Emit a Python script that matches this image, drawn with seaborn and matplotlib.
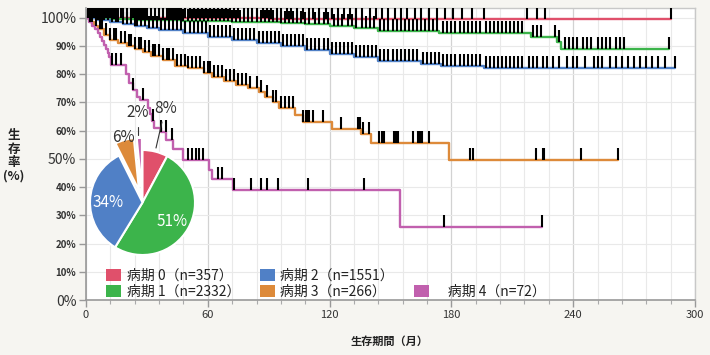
import numpy as np
import matplotlib
matplotlib.use("Agg")
import matplotlib.pyplot as plt
from matplotlib.patches import Patch
import seaborn as sns

# Kaplan-Meier step curves (months, survival % after each step)
red_t = [0, 30, 90, 288]
red_s = [100, 99.7, 99.5, 99.5]

green_t = [0, 6, 12, 24, 36, 48, 60, 72, 84, 96, 108, 120, 132, 144, 174, 219, 232, 234, 287]
green_s = [100, 99.8, 99.6, 99.3, 99.0, 98.9, 98.7, 98.5, 98.3, 98.0, 97.6, 96.9, 96.2, 95.4,
           94.6, 93.0, 91.3, 89.0, 89.0]

blue_t = [0, 6, 12, 18, 24, 30, 36, 48, 60, 72, 84, 96, 108, 120, 132, 144, 165, 175, 196, 290]
blue_s = [100, 99.2, 98.4, 97.6, 97.0, 96.3, 95.6, 94.4, 93.2, 92.2, 91.0, 89.8, 88.5, 87.2,
          86.0, 84.5, 83.6, 82.8, 82.1, 82.1]

orange_t = [0, 2, 4, 6, 9, 12, 16, 20, 24, 28, 32, 38, 44, 50, 58, 62, 68, 74, 80, 85, 88,
            92, 95, 103, 107, 121, 135.5, 140.4, 179, 262]
orange_s = [100, 98.5, 97, 96, 94, 92, 91, 90, 89, 88, 86.5, 85, 83, 82, 80.5, 79, 77.5, 76,
            75, 73.5, 72, 70, 68, 65.5, 63, 60.7, 58.9, 55.7, 49.5, 49.5]

pink_t = [0, 1.5, 3, 4.5, 6, 7, 8, 9, 10, 11, 11.5, 12.5, 19.5, 21, 23, 25, 26.5, 30.5, 31.5,
          32.5, 33.5, 37, 39.5, 43, 48, 60.5, 62.3, 72.5, 154.7, 224.7]
pink_s = [100, 98.6, 97.2, 95.8, 94.4, 93, 91.6, 90.2, 88.8, 87.4, 86, 83.1, 80, 77, 74.5, 72,
          70.7, 68, 66, 63.5, 61, 59.5, 56.5, 53.5, 49.5, 46, 42.8, 39.1, 25.9, 25.9]

# censoring marks (months)
red_c = [1, 2, 4, 5, 7, 8, 10, 12, 13, 15, 17, 18, 20, 22, 23, 25, 27, 29, 30, 32, 34, 36, 38,
         40, 41, 43, 45, 47, 49, 51, 53, 55, 57, 59, 61, 63, 65, 67, 69, 71, 73, 75, 78, 80, 82,
         84, 87, 89, 91, 94, 96, 99, 101, 104, 107, 110, 112, 115, 118, 121, 124, 127, 130, 133,
         136, 140, 143, 146, 149, 152, 155, 158, 162, 165, 169, 173, 177, 181, 185, 190, 196,
         217, 222, 226, 288]
green_c = [2, 3, 5, 7, 9, 11, 13, 14, 16, 18, 20, 22, 24, 26, 28, 30, 32, 34, 36, 38, 40, 42,
           44, 46, 48, 50, 52, 54, 56, 58, 60, 62, 64, 66, 68, 70, 72, 74, 76, 78, 80, 82, 84, 86,
           88, 90, 92, 94, 96, 98, 100, 102, 104, 106, 108, 110, 113, 115, 117, 119, 122, 124,
           126, 129, 131, 133, 136, 138, 140, 142, 145, 147, 149, 151, 153, 155, 157, 159, 161,
           163, 165, 167, 169, 171, 173, 176, 178, 180, 182, 184, 186, 188, 190, 192, 194, 197,
           199, 201, 203, 205, 207, 209, 211, 213, 215, 220, 222, 224, 231, 233, 236, 238, 240,
           242, 245, 247, 249, 252, 254, 256, 258, 261, 263, 265, 287]
blue_c = [1, 3, 4, 6, 8, 9, 11, 13, 15, 16, 18, 20, 22, 24, 25, 27, 29, 31, 33, 35, 37, 39, 41,
          43, 45, 47, 49, 51, 53, 55, 57, 59, 61, 63, 65, 67, 69, 71, 73, 75, 77, 79, 81, 83, 85,
          87, 89, 91, 93, 95, 97, 99, 101, 103, 105, 107, 109, 111, 113, 115, 117, 119, 121, 123,
          125, 127, 129, 131, 133, 135, 137, 139, 141, 143, 145, 147, 149, 151, 153, 155, 157,
          159, 161, 163, 166, 168, 170, 172, 174, 176, 178, 180, 182, 184, 186, 188, 190, 192,
          194, 197, 199, 201, 203, 205, 207, 209, 211, 213, 215, 218, 220, 222, 225, 227, 230,
          233, 237, 240, 242, 246, 250, 252, 254, 258, 261, 264, 267, 270, 273, 276, 279, 282,
          285, 290]
orange_c = [2, 3, 5, 7, 8, 10, 12, 14, 15, 17, 19, 21, 22, 24, 26, 27, 29, 31, 33, 34, 36, 38,
            40, 41, 43, 45, 47, 49, 50, 52, 54, 56, 58, 60, 61, 63, 65, 67, 69, 71, 73, 75, 77,
            79, 81, 84, 86, 89, 92, 93.5, 96, 98, 100, 102, 107, 108.4, 109.2, 110, 111.7, 116.6,
            125.6, 133.8, 135, 136.3, 139.6, 144.5, 145.7, 147, 151.5, 152.5, 153.6, 161, 163.5,
            164.6, 165.6, 169.2, 189.4, 190.6, 221.8, 225, 225.5, 244, 262]
pink_c = [13, 15, 17, 23, 28, 33, 37, 39.3, 42.6, 50, 52.4, 54, 55.7, 57.4, 64.8, 67.2, 73,
          81.3, 86.2, 89.4, 94.4, 109.2, 136.7, 176.6, 224.8]

stages = ["病期 0", "病期 1", "病期 2", "病期 3", "病期 4"]
counts = [357, 2332, 1551, 266, 72]
colors = ["#e0506b", "#3cb44b", "#5080c6", "#dd8a3a", "#c160ae"]

curves = [(red_t, red_s, red_c), (green_t, green_s, green_c), (blue_t, blue_s, blue_c),
          (orange_t, orange_s, orange_c), (pink_t, pink_s, pink_c)]

sns.set_theme(style="white")
plt.rcParams['font.family'] = ['Noto Sans CJK JP', 'DejaVu Sans']

bg = "#f6f5f1"
fig = plt.figure(figsize=(7.1, 3.55), dpi=100, facecolor=bg)
ax = fig.add_axes([86 / 710, 1 - 300 / 355, 609 / 710, 291.7 / 355])
ax.set_facecolor("white")

# grid
ax.set_xlim(0, 300)
ax.set_ylim(0, 103.3)
ax.set_xticks(range(0, 301, 60))
ax.set_xticks(range(0, 301, 12), minor=True)
ax.set_yticks(range(0, 101, 10))
ax.grid(which="minor", axis="x", color="#e9e9e9", linewidth=0.8)
ax.grid(which="major", axis="x", color="#d2d2d2", linewidth=0.9)
ax.grid(which="major", axis="y", color="#e9e9e9", linewidth=0.8)
ax.set_axisbelow(True)

for (t, s, c), col in zip(curves, colors):
    sns.lineplot(x=t, y=s, drawstyle="steps-post", estimator=None, sort=False,
                 color=col, linewidth=1.7, ax=ax)
for (t, s, c), col in zip(curves, colors):
    idx = np.searchsorted(t, c, side="right") - 1
    cy = np.asarray(s)[idx]
    sns.scatterplot(x=c, y=cy, marker=[(0, 0), (0, 1)], s=300, color="black",
                    edgecolor="black", linewidth=1.5, ax=ax, zorder=5)

ax.set_xlabel("")
ax.set_ylabel("")
ax.set_xticklabels([str(v) for v in range(0, 301, 60)], fontsize=8, color="#333333")
ylabels = ax.set_yticklabels([f"{v}%" for v in range(0, 101, 10)], color="#333333")
for v, lab in zip(range(0, 101, 10), ylabels):
    if v in (0, 50, 100):
        lab.set_fontsize(10)
    else:
        lab.set_fontsize(7)
        lab.set_fontweight("bold")
ax.tick_params(axis="both", which="major", bottom=True, left=True, direction="out",
               length=5, width=1, color="#999999", pad=2)
ax.tick_params(axis="x", which="minor", bottom=True, direction="out", length=3, width=0.8,
               color="#aaaaaa")
for side in ("left", "bottom"):
    ax.spines[side].set_color("#999999")
    ax.spines[side].set_linewidth(1.2)
for side in ("top", "right"):
    ax.spines[side].set_color("#c8c8c8")
    ax.spines[side].set_linewidth(1.0)

fig.text(390 / 710, 1 - 341 / 355, "生存期間（月）", ha="center", va="center",
         fontsize=8, fontweight="bold", color="#222222")
fig.text(14 / 710, 1 - 156 / 355, "生\n存\n率\n(%)", ha="center", va="center",
         fontsize=9, fontweight="bold", color="#222222", linespacing=1.05)

# legend
handles = [Patch(facecolor=col, edgecolor="none") for col in colors]
labels = [f"{st}（n={n}）" for st, n in zip(stages, counts)]
blank = Patch(facecolor="none", edgecolor="none")
leg = ax.legend(handles[:4] + [blank, handles[4]],
                labels[:4] + ["", "　" + labels[4]],
                ncol=3, fontsize=10, handlelength=1.1, handleheight=0.9,
                handletextpad=0.4, columnspacing=1.4, labelspacing=0.15,
                frameon=False, borderpad=0, borderaxespad=0, loc="lower left",
                bbox_to_anchor=(106 / 710, 1 - 299 / 355), bbox_transform=fig.transFigure)
for txt in leg.get_texts():
    txt.set_color("#222222")

# pie inset
pax = fig.add_axes([58.5 / 710, 1 - 270.75 / 355, 168 / 710, 178.5 / 355])
pax.pie(counts, colors=colors, startangle=90, counterclock=False,
        explode=[0, 0, 0, 0.24, 0.23], wedgeprops=dict(edgecolor="white", linewidth=1.5))
pax.set_xlim(-1.6, 1.6)
pax.set_ylim(-1.3, 2.1)
total = sum(counts)
pct = [f"{round(100 * n / total)}%" for n in counts]
pax.text(0.438, 1.79, pct[0], ha="center", va="center", fontsize=11, color="#333333")
pax.text(0.571, -0.362, pct[1], ha="center", va="center", fontsize=11, color="white")
pax.text(-0.648, 0.0, pct[2], ha="center", va="center", fontsize=11, color="white")
pax.text(-0.362, 1.238, pct[3], ha="center", va="center", fontsize=11, color="#333333")
pax.text(-0.095, 1.714, pct[4], ha="center", va="center", fontsize=11, color="#333333")
pax.plot([0.257, 0.371], [1.038, 1.533], color="#333333", linewidth=0.8)
pax.plot([-0.086, -0.086], [1.286, 1.438], color="#333333", linewidth=0.8)

fig.savefig("out.png", dpi=100, facecolor=bg)
